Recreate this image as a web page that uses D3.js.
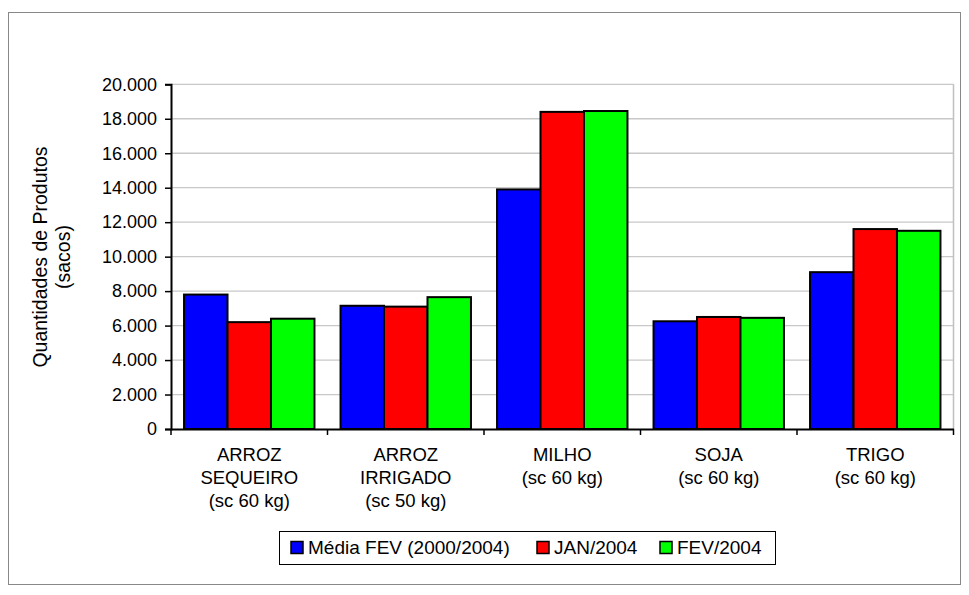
<!DOCTYPE html>
<html><head><meta charset="utf-8">
<script src="https://cdn.jsdelivr.net/npm/d3@7"></script>
<style>body{margin:0;background:#fff}svg{display:block;font-family:"Liberation Sans",Arial,sans-serif}</style>
</head><body><svg id="c" width="969" height="595"></svg>
<script>
const categories = [["ARROZ","SEQUEIRO","(sc 60 kg)"],["ARROZ","IRRIGADO","(sc 50 kg)"],["MILHO","(sc 60 kg)"],["SOJA","(sc 60 kg)"],["TRIGO","(sc 60 kg)"]];
const seriesNames = ["Média FEV (2000/2004)","JAN/2004","FEV/2004"];
const seriesColors = ["#0000ff","#ff0000","#00ff00"];
const mediaFev = [7800, 7150, 13900, 6250, 9100];
const jan2004 = [6200, 7100, 18400, 6500, 11600];
const fev2004 = [6400, 7650, 18450, 6450, 11500];
const yTicks = [0,2000,4000,6000,8000,10000,12000,14000,16000,18000,20000];
const yTitle = ["Quantidades de Produtos","(sacos)"];

const series = [mediaFev, jan2004, fev2004];
const svg = d3.select("#c");
const L = 171, R = 953.5, T = 84.3, B = 429;
const loc = d3.formatLocale({decimal:",", thousands:".", grouping:[3], currency:["",""]});
const fmt = loc.format(",d");

svg.append("rect").attr("x",8.5).attr("y",12.5).attr("width",952).attr("height",572)
  .attr("fill","#fff").attr("stroke","#888").attr("stroke-width",1);

const x0 = d3.scaleBand().domain(d3.range(categories.length)).range([L,R]).padding(0);
const gapFrac = 0.6/(3+0.6);
const x1 = d3.scaleBand().domain(d3.range(3))
  .range([x0.bandwidth()*gapFrac/2, x0.bandwidth()*(1-gapFrac/2)]).padding(0);
const y = d3.scaleLinear().domain([0,20000]).range([B,T]);

// gridlines
svg.append("g").selectAll("line").data(yTicks.filter(d=>d>0)).join("line")
  .attr("x1",L).attr("x2",R).attr("y1",d=>y(d)).attr("y2",d=>y(d))
  .attr("stroke","#c8c8c8").attr("stroke-width",1.3);
svg.append("line").attr("x1",R).attr("x2",R).attr("y1",T).attr("y2",B)
  .attr("stroke","#c0c0c0").attr("stroke-width",1.5);

// bars
const g = svg.append("g");
categories.forEach((c,i)=>{
  series.forEach((s,j)=>{
    g.append("rect").attr("x",x0(i)+x1(j)).attr("y",y(s[i]))
      .attr("width",x1.bandwidth()).attr("height",B-y(s[i]))
      .attr("fill",seriesColors[j]).attr("stroke","#000").attr("stroke-width",2);
  });
});

// y axis
const ya = svg.append("g").attr("transform",`translate(${L},0)`)
  .call(d3.axisLeft(y).tickValues(yTicks).tickFormat(fmt).tickSize(6).tickPadding(8));
ya.select(".domain").attr("stroke","#000").attr("stroke-width",2);
ya.selectAll(".tick line").attr("stroke","#000").attr("stroke-width",1.5);
ya.selectAll("text").attr("font-size",18).attr("font-family","Liberation Sans, Arial, sans-serif").attr("fill","#000");

// x axis
const xa = svg.append("g").attr("transform",`translate(0,${B})`)
  .call(d3.axisBottom(x0).tickValues([]).tickSizeOuter(0));
xa.select(".domain").attr("stroke","#000").attr("stroke-width",2);
svg.append("g").selectAll("line").data(d3.range(categories.length+1)).join("line")
  .attr("x1",d=>L+d*x0.bandwidth()).attr("x2",d=>L+d*x0.bandwidth())
  .attr("y1",B).attr("y2",B+6).attr("stroke","#000").attr("stroke-width",1.5);
categories.forEach((c,i)=>{
  const t = svg.append("text").attr("text-anchor","middle").attr("font-size",18.5).attr("fill","#000");
  c.forEach((ln,k)=>{
    t.append("tspan").attr("x",x0(i)+x0.bandwidth()/2).attr("y",460.5+k*23).text(ln);
  });
});

// y title
yTitle.forEach((ln,k)=>{
  svg.append("text").attr("transform",`translate(${47+k*23},257) rotate(-90)`)
    .attr("text-anchor","middle").attr("font-size",19.5).attr("fill","#000").text(ln);
});

// legend
svg.append("rect").attr("x",279.5).attr("y",531.5).attr("width",496).attr("height",33)
  .attr("fill","#fff").attr("stroke","#000").attr("stroke-width",1);
const lx = [291, 537, 660];
seriesNames.forEach((n,j)=>{
  svg.append("rect").attr("x",lx[j]).attr("y",541.5).attr("width",12).attr("height",12)
    .attr("fill",seriesColors[j]).attr("stroke","#000").attr("stroke-width",1.5);
  svg.append("text").attr("x",lx[j]+17).attr("y",554).attr("font-size",19).attr("fill","#000").text(n);
});
</script></body></html>
